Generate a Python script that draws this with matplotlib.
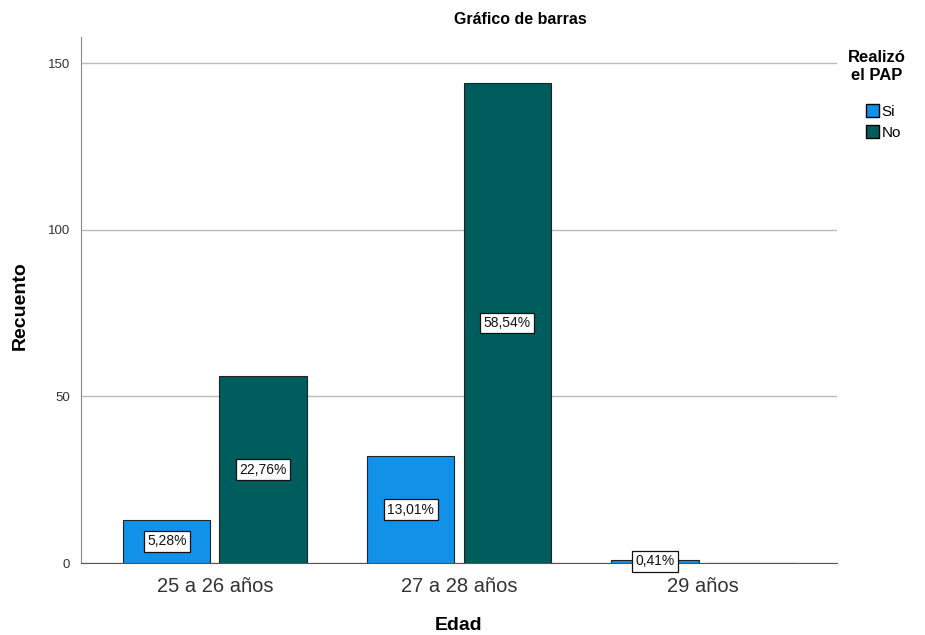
import matplotlib
matplotlib.use("Agg")
import matplotlib.pyplot as plt
import numpy as np
from matplotlib.patches import Patch

plt.rcParams['font.family'] = ['Liberation Sans', 'DejaVu Sans']

# datos
categorias = ["25 a 26 años", "27 a 28 años", "29 años"]
si_counts = [13, 32, 1]
no_counts = [56, 144, 0]
si_pct = ["5,28%", "13,01%", "0,41%"]
no_pct = ["22,76%", "58,54%", ""]

col_si = "#1192e8"
col_no = "#005d5d"

fig = plt.figure(figsize=(9.25, 6.35), dpi=100)
ax = fig.add_axes([81 / 925, 1 - 563 / 635, (837 - 81) / 925, (563 - 37) / 635])

x = np.arange(len(categorias))
w = 0.357
off = 0.197

bars_si = ax.bar(x - off, si_counts, w, color=col_si, edgecolor="#222222", linewidth=0.8, zorder=3)
bars_no = ax.bar(x + off, no_counts, w, color=col_no, edgecolor="#222222", linewidth=0.8, zorder=3)

box = dict(boxstyle="square,pad=0.25", fc="white", ec="#111111", lw=0.9)
for b, txt in zip(list(bars_si) + list(bars_no), si_pct + no_pct):
    if txt:
        ax.text(b.get_x() + b.get_width() / 2, b.get_height() / 2, txt, ha="center", va="center",
                fontsize=10, color="#111111", bbox=box, zorder=5)

ax.set_xlim(-0.549, 2.549)
ax.set_ylim(0, 157.8)
ax.set_yticks([0, 50, 100, 150])
ax.yaxis.grid(True, color="#bbbbbb", linewidth=1, zorder=0)
ax.set_axisbelow(True)
ax.set_xticks(x)
ax.set_xticklabels(categorias, fontsize=14.5, color="#333333")
ax.tick_params(axis="y", labelsize=9.5, length=0, pad=8, labelcolor="#333333")
ax.tick_params(axis="x", length=0, pad=10)
for s in ["top", "right"]:
    ax.spines[s].set_visible(False)
ax.spines["left"].set_color("#888888")
ax.spines["bottom"].set_color("#555555")

fig.text(20 / 925, 1 - 306 / 635, "Recuento", rotation=90, ha="center", va="center",
         fontsize=14, fontweight="bold")
fig.text(459 / 925, 1 - 625 / 635, "Edad", ha="center", va="center", fontsize=14, fontweight="bold")
fig.text(520 / 925, 1 - 20 / 635, "Gráfico de barras", ha="center", va="center",
         fontsize=11.5, fontweight="bold")

# leyenda
fig.text(877 / 925, 1 - 67 / 635, "Realizó\nel PAP", ha="center", va="center",
         fontsize=12, fontweight="bold", linespacing=1.25)
handles = [Patch(facecolor=col_si, edgecolor="black", label="Si"),
           Patch(facecolor=col_no, edgecolor="black", label="No")]
fig.legend(handles=handles, loc="upper left", bbox_to_anchor=(858 / 925, 1 - 96 / 635),
           frameon=False, fontsize=11, borderpad=0, handlelength=0.9, handleheight=1.0,
           handletextpad=0.15, labelspacing=0.4)

fig.savefig("out.png", dpi=100)
